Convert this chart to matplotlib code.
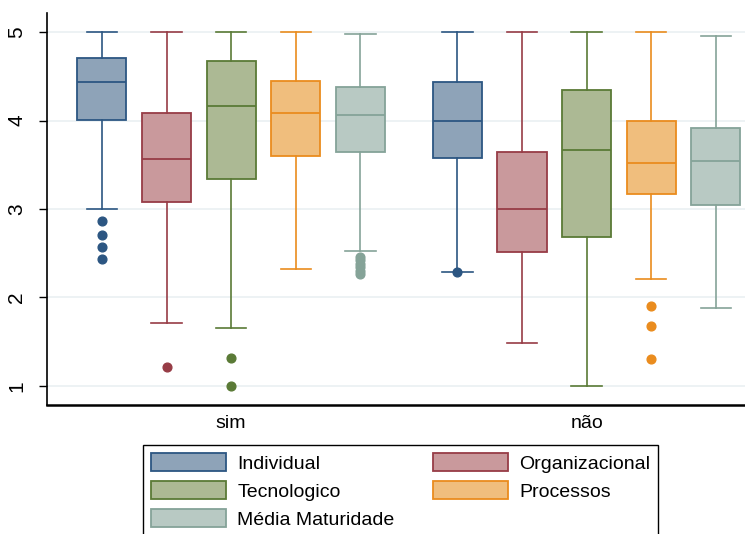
import matplotlib.pyplot as plt
from matplotlib.patches import Patch

plt.rcParams['font.family'] = ['Liberation Sans', 'DejaVu Sans']

groups = ["sim", "não"]
series = ["Individual", "Organizacional", "Tecnologico", "Processos", "Média Maturidade"]

# box stats per group: (lower whisker, Q1, median, Q3, upper whisker)
sim_stats = [
    (3.00, 4.01, 4.44, 4.71, 5.00),
    (1.71, 3.08, 3.57, 4.08, 5.00),
    (1.66, 3.34, 4.16, 4.67, 5.00),
    (2.32, 3.60, 4.08, 4.45, 5.00),
    (2.53, 3.64, 4.06, 4.38, 4.98),
]
nao_stats = [
    (2.29, 3.58, 4.00, 4.43, 5.00),
    (1.49, 2.51, 3.00, 3.64, 5.00),
    (1.00, 2.68, 3.67, 4.34, 5.00),
    (2.21, 3.17, 3.52, 4.00, 5.00),
    (1.88, 3.05, 3.54, 3.92, 4.96),
]
sim_outliers = [
    [2.86, 2.71, 2.57, 2.43],
    [1.21],
    [1.32, 1.00],
    [],
    [2.46, 2.42, 2.38, 2.34, 2.30, 2.27],
]
nao_outliers = [
    [2.29],
    [],
    [],
    [1.90, 1.68, 1.31],
    [],
]

edge_colors = ["#2c5682", "#973c46", "#5a7a36", "#ea8c1e", "#85a398"]
fill_colors = ["#8ea3b8", "#c9999c", "#acb994", "#f0be7d", "#b8c9c3"]

fig = plt.figure(figsize=(7.45, 5.34), dpi=100)
ax = fig.add_axes([0.063, 0.2416, 0.95, 0.734])

positions = [[0, 1, 2, 3, 4], [5.5, 6.5, 7.5, 8.5, 9.5]]
for g, (stats, outs) in enumerate([(sim_stats, sim_outliers), (nao_stats, nao_outliers)]):
    for i, (s, o) in enumerate(zip(stats, outs)):
        d = dict(whislo=s[0], q1=s[1], med=s[2], q3=s[3], whishi=s[4], fliers=o)
        ec = edge_colors[i]
        ax.bxp([d], positions=[positions[g][i]], widths=0.76, capwidths=0.47,
               patch_artist=True, manage_ticks=False,
               boxprops=dict(facecolor=fill_colors[i], edgecolor=ec, linewidth=1.3),
               medianprops=dict(color=ec, linewidth=1.3),
               whiskerprops=dict(color=ec, linewidth=1.2),
               capprops=dict(color=ec, linewidth=1.2),
               flierprops=dict(marker='o', markerfacecolor=ec, markeredgecolor=ec,
                               markersize=6.3))

ax.set_xlim(-0.85, 10.1)
ax.set_ylim(0.785, 5.215)
ax.set_yticks([1, 2, 3, 4, 5])
ax.set_yticklabels(["1", "2", "3", "4", "5"], rotation=90, va='center', fontsize=15)
ax.set_xticks([2, 7.5])
ax.set_xticklabels(groups, fontsize=14)
ax.tick_params(axis='x', length=0, pad=7)
ax.tick_params(axis='y', length=6, width=1, pad=9)
ax.yaxis.grid(True, color='#eaf0f2', linewidth=1.2)
ax.set_axisbelow(True)
for side in ['top', 'right']:
    ax.spines[side].set_visible(False)
ax.spines['left'].set_linewidth(1.2)
ax.spines['bottom'].set_linewidth(1.8)

# legend filled row by row: matplotlib fills by column, so reorder
order = [0, 2, 4, 1, 3]
handles = [Patch(facecolor=fill_colors[i], edgecolor=edge_colors[i], linewidth=1.3)
           for i in order]
labels = [series[i] for i in order]
fig.legend(handles, labels, ncol=2, loc='upper left',
           bbox_to_anchor=(143 / 745, 1 - 445 / 534), borderaxespad=0, fontsize=14,
           handlelength=3.87, handleheight=1.08, labelspacing=0.42,
           columnspacing=1.96, handletextpad=0.57, borderpad=0.41,
           fancybox=False, edgecolor='black', framealpha=1)

fig.savefig("out.png", dpi=100)
